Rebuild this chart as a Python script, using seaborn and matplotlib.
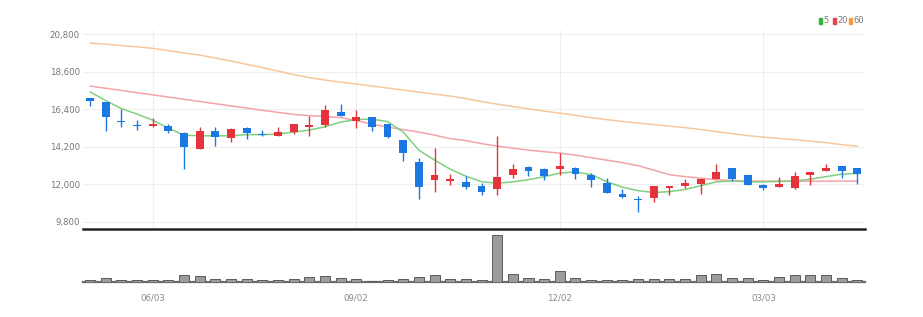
import matplotlib
matplotlib.use("Agg")
import matplotlib.pyplot as plt
import seaborn as sns
import numpy as np
import pandas as pd
from matplotlib.patches import Rectangle

# ---------------- data (weekly candles) ----------------
open_ = [17030, 16790, 15710, 15450, 15400, 15420, 15010, 14070, 15110, 14700,
         15300, 14950, 14850, 15070, 15340, 15460, 16210, 15700, 15930, 15540,
         14580, 13270, 12220, 12190, 12130, 11900, 11710, 12530, 13010, 12880,
         12880, 12920, 12530, 12040, 11410, 11150, 11160, 11750, 11900, 12000,
         12330, 12920, 12530, 11980, 11840, 11750, 12530, 12760, 13060, 12920]
high = [17070, 16810, 16400, 15750, 15890, 15520, 15050, 15360, 15330, 15280,
        15340, 15170, 15340, 15530, 16010, 16630, 16680, 16360, 15940, 15550,
        14590, 13540, 14090, 12590, 12470, 12060, 14820, 13160, 13050, 12940,
        13800, 13010, 12660, 12370, 11710, 11300, 11890, 11890, 12280, 12290,
        13170, 12940, 12540, 12000, 12430, 12700, 12710, 13160, 13070, 12940]
low = [16610, 15130, 15330, 15170, 15330, 14970, 12860, 14050, 14230, 14450,
       14640, 14850, 14820, 14920, 14820, 15340, 16000, 15300, 15110, 14730,
       13370, 11120, 11550, 11940, 11690, 11350, 11350, 12370, 12490, 12230,
       12530, 12280, 11840, 11480, 11210, 10340, 10930, 11350, 11760, 11450,
       12320, 12180, 11970, 11650, 11830, 11740, 11980, 12750, 12370, 12000]
close = [16870, 15910, 15620, 15390, 15500, 15110, 14190, 15110, 14740, 15240,
         14970, 14860, 15030, 15520, 15460, 16320, 16010, 15910, 15340, 14770,
         13840, 11810, 12510, 12290, 11840, 11550, 12430, 12880, 12780, 12450,
         13070, 12600, 12230, 11490, 11220, 11090, 11880, 11880, 12040, 12280,
         12700, 12330, 11980, 11780, 12000, 12470, 12690, 12960, 12800, 12590]
ma5 = [17415, 16899, 16429, 16106, 15754, 15285, 14874, 14833, 14833, 14833,
       14904, 14904, 14933, 15050, 15168, 15361, 15637, 15784, 15813, 15666,
       15050, 13994, 13408, 12880, 12469, 12146, 12058, 12134, 12263, 12440,
       12645, 12721, 12557, 12146, 11823, 11618, 11513, 11560, 11689, 11912,
       12134, 12193, 12134, 12134, 12158, 12187, 12293, 12440, 12586, 12627]
ma20 = [17749, 17620, 17491, 17362, 17233, 17104, 16975, 16846, 16717, 16588,
        16458, 16329, 16206, 16089, 16018, 15971, 15901, 15725, 15520, 15344,
        15197, 15050, 14874, 14669, 14552, 14376, 14229, 14112, 13994, 13906,
        13818, 13701, 13554, 13408, 13261, 13085, 12821, 12557, 12440, 12352,
        12252, 12217, 12193, 12176, 12180, 12176, 12172, 12176, 12180, 12176]
ma60 = [20272, 20202, 20125, 20049, 19961, 19832, 19685, 19568, 19392, 19216,
        19022, 18835, 18629, 18424, 18248, 18101, 17984, 17867, 17749, 17632,
        17515, 17397, 17280, 17162, 17016, 16840, 16693, 16546, 16417, 16282,
        16165, 16030, 15901, 15784, 15678, 15578, 15490, 15402, 15314, 15197,
        15080, 14962, 14845, 14757, 14681, 14610, 14522, 14434, 14317, 14229]
volume = [66, 135, 75, 75, 57, 57, 216, 186, 96, 96,
          105, 75, 66, 96, 165, 186, 135, 96, 45, 75,
          96, 165, 225, 96, 96, 75, 1437, 237, 135, 96,
          336, 135, 75, 75, 75, 96, 96, 96, 96, 216,
          255, 135, 135, 75, 165, 207, 207, 207, 135, 75]
xtick_idx = [4, 17, 30, 43]
xtick_labels = ["06/03", "09/02", "12/02", "03/03"]
ytick_vals = [9800, 12000, 14200, 16400, 18600, 20800]
legend_labels = ["5", "20", "60"]

# ---------------- style ----------------
RED = "#e5323b"
BLUE = "#1b78e2"
C5, C20, C60 = "#7fd07f", "#f3a3a7", "#f7c79d"
LEG = ["#2fb52f", "#e8434a", "#f59a35"]

sns.set_theme(style="white")
plt.rcParams["font.family"] = ["Liberation Sans Narrow", "DejaVu Sans"]

n = len(close)
df = pd.DataFrame({"idx": np.arange(n), "open": open_, "high": high, "low": low,
                   "close": close, "ma5": ma5, "ma20": ma20, "ma60": ma60,
                   "vol": volume})

W, H = 923, 317
fig = plt.figure(figsize=(W / 100, H / 100), dpi=100)
fig.patch.set_facecolor("white")
ax = fig.add_axes([83 / W, 1 - 229 / H, 782 / W, 199 / H])
axv = fig.add_axes([83 / W, 1 - 282 / H, 782 / W, 50 / H])

XLIM = (-0.45, n - 1 + 0.49)

# ---- price panel ----
ax.set_xlim(*XLIM)
ax.set_ylim(9372, 21035)
ax.set_yticks(ytick_vals)
ax.set_yticklabels([f"{v:,}" for v in ytick_vals])
ax.set_xticks(xtick_idx)
ax.set_xticklabels([])
ax.grid(True, color="#efefef", lw=0.8)
ax.set_axisbelow(True)
ax.tick_params(axis="y", length=0, pad=2.2, labelsize=6.2, labelcolor="#777777")
ax.tick_params(axis="x", length=0)
for s in ["top", "right", "left"]:
    ax.spines[s].set_visible(False)
ax.spines["bottom"].set_color("#222222")
ax.spines["bottom"].set_linewidth(1.8)

sns.lineplot(data=df, x="idx", y="ma60", ax=ax, color=C60, lw=1.1, zorder=2)
sns.lineplot(data=df, x="idx", y="ma20", ax=ax, color=C20, lw=1.1, zorder=2)
sns.lineplot(data=df, x="idx", y="ma5", ax=ax, color=C5, lw=1.1, zorder=2)

o = df["open"].to_numpy()
c = df["close"].to_numpy()
up = c > o
cols = np.where(up, RED, BLUE)
ax.vlines(df["idx"], df["low"], df["high"], colors=cols, lw=1.0, zorder=3)
body = np.abs(c - o)
bh = np.maximum(body, 45)
bottom = np.minimum(o, c) - (bh - body) / 2
ax.bar(df["idx"], bh, bottom=bottom, width=0.5, color=cols, lw=0, zorder=4)
ax.set_xlabel("")
ax.set_ylabel("")

# ---- volume panel ----
sns.barplot(data=df, x="idx", y="vol", native_scale=True, ax=axv,
            color="#9c9c9c", saturation=1, edgecolor="#5a5a5a", linewidth=0.7,
            width=0.64, errorbar=None, zorder=3)
axv.set_xlim(*XLIM)
axv.set_ylim(0, max(volume) * 50 / 47)
axv.set_yticks([])
axv.set_xticks(xtick_idx)
axv.set_xticklabels(xtick_labels)
axv.tick_params(axis="x", length=3, width=1, color="#444444", pad=5,
                labelsize=6.2, labelcolor="#888888")
for s in ["top", "right", "left"]:
    axv.spines[s].set_visible(False)
axv.spines["bottom"].set_color("#6a6a6a")
axv.spines["bottom"].set_linewidth(1.6)
axv.spines["bottom"].set_zorder(2)
axv.set_xlabel("")
axv.set_ylabel("")
axv.set_facecolor("none")

# ---- legend ----
leg_x = [819, 833, 849]
for xx, col, lab in zip(leg_x, LEG, legend_labels):
    fig.patches.append(Rectangle((xx / W, 1 - 23.5 / H), 2.6 / W, 5.5 / H,
                                 transform=fig.transFigure, color=col))
    fig.text((xx + 4) / W, 1 - 20.8 / H, lab, fontsize=6, color="#777777",
             va="center", ha="left")

fig.savefig("out.png", dpi=100, facecolor="white")
